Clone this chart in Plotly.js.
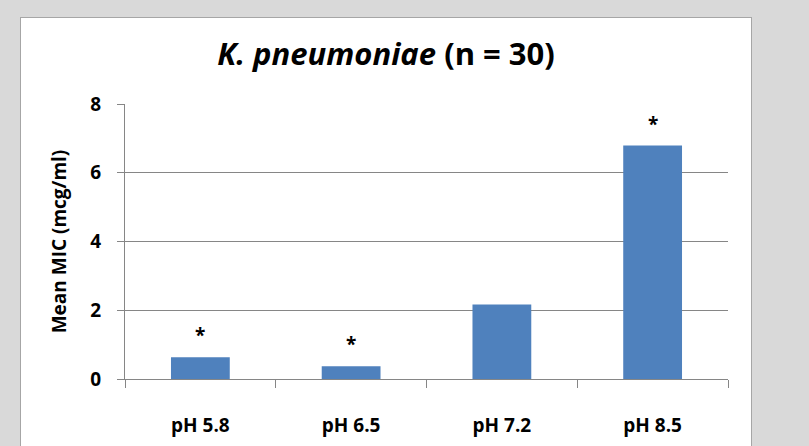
<!DOCTYPE html>
<html>
<head>
<meta charset="utf-8">
<script src="https://cdn.plot.ly/plotly-3.0.1.min.js"></script>
<style>
html,body{margin:0;padding:0;background:#d9d9d9;width:809px;height:446px;overflow:hidden;}
#frame{position:absolute;left:20px;top:17px;width:730px;height:440px;background:#fff;border:1px solid #a6a6a6;border-bottom:none;}
#chart{width:730px;height:429px;}
</style>
</head>
<body>
<div id="frame"><div id="chart"></div></div>
<script>
var categories = ["pH 5.8", "pH 6.5", "pH 7.2", "pH 8.5"];
var meanMIC = [0.63, 0.37, 2.17, 6.79];
var significant = [true, true, false, true];
var yTicks = [0, 2, 4, 6, 8];

var FONT = "'Open Sans', sans-serif";

var annotations = [];
categories.forEach(function(c, i){
  if (significant[i]) {
    annotations.push({
      x: c, y: meanMIC[i], xref: 'x', yref: 'y',
      text: '*', showarrow: false, yshift: 22,
      font: {family: FONT, size: 19, color: '#000', weight: 'bold'}
    });
  }
});

var trace = {
  type: 'bar',
  x: categories,
  y: meanMIC,
  marker: {color: '#4f81bd', line: {color: '#4f81bd', width: 0}},
  hoverinfo: 'none'
};

var layout = {
  width: 730, height: 429,
  margin: {l: 104, r: 23, t: 86, b: 68, pad: 0},
  paper_bgcolor: '#ffffff',
  plot_bgcolor: '#ffffff',
  showlegend: false,
  bargap: 0.61,
  title: {
    text: '<i>K. pneumoniae</i> (n = 30)',
    font: {family: FONT, size: 31, color: '#000', weight: 'bold'},
    x: 0.5, xanchor: 'center', y: 1, yref: 'container', yanchor: 'top', pad: {t: 25}
  },
  xaxis: {
    type: 'category',
    showline: true, linecolor: '#868686', linewidth: 1,
    ticks: 'outside', tickson: 'boundaries', ticklen: 8, tickcolor: '#868686',
    showgrid: false,
    tickfont: {family: FONT, size: 19, color: '#000', weight: 'bold'},
    ticklabelstandoff: 29
  },
  yaxis: {
    range: [0, 8],
    tickvals: yTicks,
    ticktext: yTicks.map(String),
    showline: true, linecolor: '#868686', linewidth: 1,
    ticks: 'outside', ticklen: 7, tickcolor: '#868686',
    showgrid: true, gridcolor: '#868686', gridwidth: 1,
    zeroline: false,
    tickfont: {family: FONT, size: 19, color: '#000', weight: 'bold'},
    ticklabelstandoff: 12,
    title: {
      text: 'Mean MIC (mcg/ml)',
      font: {family: FONT, size: 19, color: '#000', weight: 'bold'},
      standoff: 18
    }
  },
  annotations: annotations
};

Plotly.newPlot('chart', [trace], layout, {staticPlot: true, displayModeBar: false});
</script>
</body>
</html>
